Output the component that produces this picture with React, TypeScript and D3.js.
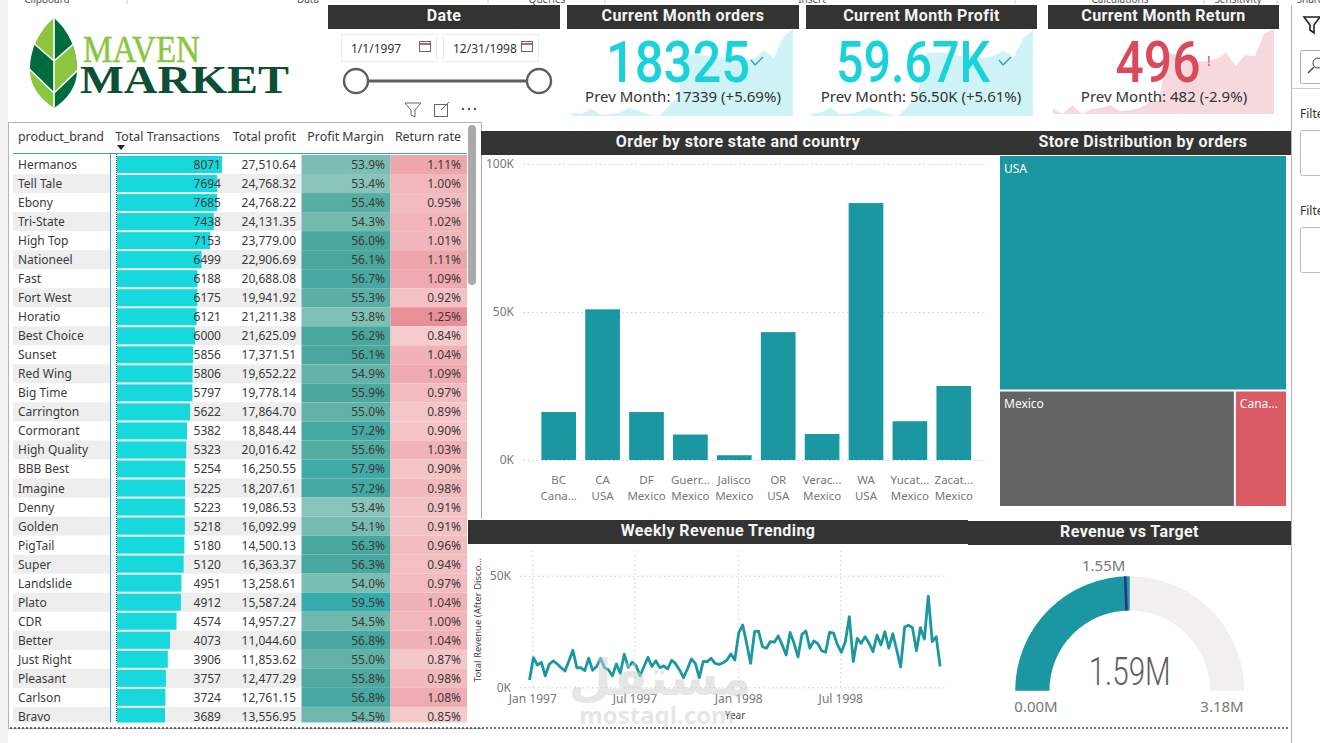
import React, { useEffect, useRef } from 'react';
import * as d3 from 'd3';

// table
const brands = ['Hermanos', 'Tell Tale', 'Ebony', 'Tri-State', 'High Top', 'Nationeel', 'Fast', 'Fort West', 'Horatio', 'Best Choice', 'Sunset', 'Red Wing', 'Big Time', 'Carrington', 'Cormorant', 'High Quality', 'BBB Best', 'Imagine', 'Denny', 'Golden', 'PigTail', 'Super', 'Landslide', 'Plato', 'CDR', 'Better', 'Just Right', 'Pleasant', 'Carlson', 'Bravo'];
const transactions = [8071, 7694, 7685, 7438, 7153, 6499, 6188, 6175, 6121, 6000, 5856, 5806, 5797, 5622, 5382, 5323, 5254, 5225, 5223, 5218, 5180, 5120, 4951, 4912, 4574, 4073, 3906, 3757, 3724, 3689];
const profits = [27510.64, 24768.32, 24768.22, 24131.35, 23779.0, 22906.69, 20688.08, 19941.92, 21211.38, 21625.09, 17371.51, 19652.22, 19778.14, 17864.7, 18848.44, 20016.42, 16250.55, 18207.61, 19086.53, 16092.99, 14500.13, 16363.37, 13258.61, 15587.24, 14957.27, 11044.6, 11853.62, 12477.29, 12761.15, 13556.95];
const margins = [53.9, 53.4, 55.4, 54.3, 56.0, 56.1, 56.7, 55.3, 53.8, 56.2, 56.1, 54.9, 55.9, 55.0, 57.2, 55.6, 57.9, 57.2, 53.4, 54.1, 56.3, 56.3, 54.0, 59.5, 54.5, 56.8, 55.0, 55.8, 56.8, 54.5];
const returnRates = [1.11, 1.0, 0.95, 1.02, 1.01, 1.11, 1.09, 0.92, 1.25, 0.84, 1.04, 1.09, 0.97, 0.89, 0.9, 1.03, 0.9, 0.98, 0.91, 0.91, 0.96, 0.94, 0.97, 1.04, 1.0, 1.04, 0.87, 0.98, 1.08, 0.85];

// orders by state
const states = ['BC', 'CA', 'DF', 'Guerr...', 'Jalisco', 'OR', 'Verac...', 'WA', 'Yucat...', 'Zacat...'];
const countries = ['Cana...', 'USA', 'Mexico', 'Mexico', 'Mexico', 'USA', 'Mexico', 'USA', 'Mexico', 'Mexico'];
const fullCountries = ['Canada', 'USA', 'Mexico', 'Mexico', 'Mexico', 'USA', 'Mexico', 'USA', 'Mexico', 'Mexico'];
const stateOrders = [16200, 50900, 16200, 8600, 1600, 43200, 8800, 86800, 13100, 25000];

// weekly revenue, in thousands
const weeklyRevenue = [3.3, 13.3, 10, 11.2, 5.1, 10.3, 11.8, 10.5, 8.8, 7.3, 11.9, 16.6, 8.7, 8.8, 7.5, 13, 7.6, 9.3, 13, 8.8, 7.9, 5.1, 10.5, 6.3, 14.8, 9, 11.2, 9.7, 5.2, 9.3, 13.4, 9.3, 11.9, 8.8, 9.6, 8.2, 12.1, 10.6, 7.8, 4.3, 8.2, 12.7, 10.7, 4.3, 11.6, 11.5, 13, 10.7, 10.3, 10.9, 12.2, 14.9, 12.2, 24.5, 27.9, 19.7, 10.7, 24.9, 25.2, 18.2, 17.5, 20.5, 20.2, 23, 19, 14.5, 24.6, 19.7, 13.6, 23.7, 25.2, 17.5, 20.8, 19.6, 16.4, 15.7, 24.6, 24.3, 19, 15.7, 20.5, 31.7, 11.5, 21.9, 19.7, 22.7, 19.7, 16, 23.4, 19, 24.9, 17.5, 24, 16.7, 9.1, 27, 27.8, 26.7, 16.4, 26.7, 21.6, 40.8, 20.5, 22.7, 9.4];
const weekStart = new Date(1996, 11, 27);

// KPI sparklines, monthly
const ordersSpark = [7514, 7471, 8115, 7343, 7428, 7600, 8243, 7772, 7343, 7171, 8329, 9616, 14979, 15065, 14893, 14678, 14722, 14550, 14421, 14550, 15622, 14550, 17339, 18325];
const profitSpark = [27.9, 28.2, 30.2, 27.7, 27.9, 28.6, 30.2, 29, 27.7, 27, 30.5, 34.9, 50.8, 51.2, 51, 50.1, 49.5, 49.8, 48.9, 50.1, 51.8, 49.3, 56.5, 59.67];
const returnSpark = [239, 222, 250, 222, 237, 241, 250, 232, 234, 241, 259, 266, 417, 414, 401, 392, 392, 399, 420, 377, 412, 408, 482, 496];

// gauge
const gaugeValue = 1.59;
const gaugeTarget = 1.55;
const gaugeMax = 3.18;

const ribbonLabels: [string, number][] = [['Clipboard', 47], ['Data', 308], ['Queries', 547], ['Insert', 812], ['Calculations', 1120], ['Sensitivity', 1238], ['Share', 1310]];
const ribbonSeps = [127, 488, 605, 1015, 1204, 1277];

const UI = '"Noto Sans", "Open Sans", sans-serif';
const DIN = 'Roboto, "Noto Sans", sans-serif';
const TEAL = '#1a97a0';
const CYAN = '#17d8dd';
const GREY = '#777777';

const Logo: React.FC = () => (
  <svg width={300} height={112} style={{ position: 'fixed', left: 0, top: 5 }}>
    <g transform="translate(0,-5)">
      <clipPath id="leaf">
        <path d="M54,18 C40,30 30,48 30,70 C30,88 42,100 54,108 C66,100 77,88 77,70 C77,48 68,30 54,18 Z" />
      </clipPath>
      <g clipPath="url(#leaf)">
        <rect x="25" y="15" width="29" height="100" fill="#8cc63f" />
        <rect x="54" y="15" width="29" height="100" fill="#006b3f" />
        <path d="M54,61 L25,36 L25,66 L54,93 Z" fill="#006b3f" />
        <path d="M54,61 L83,36 L83,66 L54,93 Z" fill="#8cc63f" />
        <path d="M54,18 V108 M54,61 L30,40 M54,61 L78,40 M54,93 L28,68 M54,93 L80,68" stroke="#fff" strokeWidth="1.6" fill="none" />
      </g>
      <text x="83" y="62" fontFamily='"Liberation Serif"' fontWeight="400" fontSize="37" fill="#8cc63f" stroke="#8cc63f" strokeWidth="0.5" textLength={117} lengthAdjust="spacingAndGlyphs">MAVEN</text>
      <text x="80" y="93" fontFamily='"Liberation Serif"' fontWeight="700" fontSize="41" fill="#0b4f34" textLength={209} lengthAdjust="spacingAndGlyphs">MARKET</text>
    </g>
  </svg>
);

const App: React.FC = () => {
  const svgRef = useRef<SVGSVGElement>(null);

  useEffect(() => {
    if (!svgRef.current) return;
    const svg = d3.select(svgRef.current);
    svg.selectAll('*').remove();

    // page chrome
    svg.append('rect').attr('width', 1320).attr('height', 743).attr('fill', '#fff');
    svg.append('rect').attr('width', 8).attr('height', 743).attr('fill', '#f3f2f1');
    ribbonLabels.forEach(([t, x]) => {
      svg.append('text').attr('x', x).attr('y', 3).attr('text-anchor', 'middle')
        .attr('font-family', UI).attr('font-size', 10).attr('fill', '#555').text(t);
    });
    ribbonSeps.forEach(x => {
      svg.append('line').attr('x1', x).attr('x2', x).attr('y1', 0).attr('y2', 4).attr('stroke', '#ccc');
    });

    const header = (text: string, x0: number, x1: number, y0: number, h = 24) => {
      svg.append('rect').attr('x', x0).attr('y', y0).attr('width', x1 - x0).attr('height', h).attr('fill', '#333333');
      svg.append('text').attr('x', (x0 + x1) / 2).attr('y', y0 + h / 2 + 3.5).attr('text-anchor', 'middle')
        .attr('font-family', DIN).attr('font-weight', 700).attr('font-size', 16).attr('letter-spacing', 0.4).attr('fill', '#f4f4f4').text(text);
    };

    // borders
    svg.append('rect').attr('x', 8.5).attr('y', 122.5).attr('width', 473).attr('height', 606).attr('fill', '#fff').attr('stroke', '#b5b5b5');
    svg.append('rect').attr('x', 468).attr('y', 519).attr('width', 15).attr('height', 209).attr('fill', '#fff');
    svg.append('line').attr('x1', 481.5).attr('x2', 481.5).attr('y1', 155).attr('y2', 518).attr('stroke', '#a8a8a8');

    // right pane
    const pane = svg.append('g');
    pane.append('line').attr('x1', 1291.5).attr('x2', 1291.5).attr('y1', 5).attr('y2', 743).attr('stroke', '#b5b5b5');
    pane.append('line').attr('x1', 1291).attr('x2', 1320).attr('y1', 88.5).attr('y2', 88.5).attr('stroke', '#ccc');
    pane.append('path').attr('d', 'M1304,17 L1320,17 L1314,25 L1314,33 L1310,30 L1310,25 Z').attr('fill', 'none').attr('stroke', '#222').attr('stroke-width', 1.6);
    pane.append('rect').attr('x', 1300.5).attr('y', 50.5).attr('width', 30).attr('height', 33).attr('rx', 2).attr('fill', '#fff').attr('stroke', '#aaa');
    pane.append('circle').attr('cx', 1318).attr('cy', 63).attr('r', 5).attr('fill', 'none').attr('stroke', '#444');
    pane.append('line').attr('x1', 1314).attr('y1', 67).attr('x2', 1308).attr('y2', 73).attr('stroke', '#444').attr('stroke-width', 1.4);
    [[118, 130.5], [215, 227.5]].forEach(([ty, by]) => {
      pane.append('text').attr('x', 1300).attr('y', ty).attr('font-family', UI).attr('font-size', 12).attr('fill', '#333').text('Filte');
      pane.append('rect').attr('x', 1300.5).attr('y', by).attr('width', 30).attr('height', 45).attr('rx', 2).attr('fill', '#fff').attr('stroke', '#bbb');
    });

    // date slicer
    header('Date', 328, 560, 5);
    [[341, '1/1/1997'], [443, '12/31/1998']].forEach(([x, t]) => {
      const bx = x as number;
      svg.append('rect').attr('x', bx + 0.5).attr('y', 34.5).attr('width', 95).attr('height', 27).attr('fill', '#fff').attr('stroke', '#ececec');
      svg.append('text').attr('x', bx + 10).attr('y', 53).attr('font-family', UI).attr('font-size', 12).attr('fill', '#333').text(t as string);
      svg.append('rect').attr('x', bx + 78.5).attr('y', 41.5).attr('width', 11).attr('height', 10).attr('fill', '#fff').attr('stroke', '#666');
      svg.append('line').attr('x1', bx + 79).attr('x2', bx + 89).attr('y1', 44).attr('y2', 44).attr('stroke', '#a33').attr('stroke-width', 1.5);
    });
    svg.append('line').attr('x1', 356).attr('x2', 539).attr('y1', 81).attr('y2', 81).attr('stroke', '#605e5c').attr('stroke-width', 3);
    [356, 539].forEach(cx => {
      svg.append('circle').attr('cx', cx).attr('cy', 81).attr('r', 12).attr('fill', '#fff').attr('stroke', '#605e5c').attr('stroke-width', 2.4);
    });

    // visual header icons
    svg.append('path').attr('d', 'M405,103 L421,103 L415,110 L415,117 L411,115 L411,110 Z').attr('fill', 'none').attr('stroke', '#666');
    svg.append('rect').attr('x', 434.5).attr('y', 104.5).attr('width', 13).attr('height', 12).attr('fill', 'none').attr('stroke', '#666');
    svg.append('line').attr('x1', 441).attr('y1', 110).attr('x2', 449).attr('y2', 102).attr('stroke', '#666');
    [463, 469, 475].forEach(cx => svg.append('circle').attr('cx', cx).attr('cy', 109).attr('r', 1.2).attr('fill', '#555'));

    // KPI cards
    const kpi = (o: {
      title: string; x0: number; x1: number; ax0: number; ax1: number; base: number; top: number;
      data: number[]; color: string; area: string; value: string; vx: number; vw: number; prev: string; px: number;
      mark: string; mx: number;
    }) => {
      header(o.title, o.x0, o.x1, 5);
      const x = d3.scaleLinear().domain([0, o.data.length - 1]).range([o.ax0, o.ax1]);
      const y = d3.scaleLinear().domain(d3.extent(o.data) as [number, number]).range([o.base, o.top]);
      const area = d3.area<number>().x((_, i) => x(i)).y0(o.base).y1(d => y(d));
      svg.append('path').datum(o.data).attr('d', area).attr('fill', o.area);
      svg.append('text').attr('x', o.vx).attr('y', 82).attr('text-anchor', 'middle')
        .attr('font-family', DIN).attr('font-weight', 500).attr('font-size', 58).attr('fill', o.color)
        .attr('textLength', o.vw).attr('lengthAdjust', 'spacingAndGlyphs').text(o.value);
      svg.append('text').attr('x', o.px).attr('y', 102).attr('text-anchor', 'middle')
        .attr('font-family', UI).attr('font-size', 15).attr('fill', '#333').text(o.prev);
      if (o.mark === '!') {
        svg.append('text').attr('x', o.mx).attr('y', 66).attr('text-anchor', 'middle').attr('font-family', UI)
          .attr('font-size', 14).attr('fill', o.color).text('!');
      } else {
        svg.append('path').attr('d', `M${o.mx - 6},${60} L${o.mx - 2},${65} L${o.mx + 6},${57}`).attr('fill', 'none').attr('stroke', '#2aa7b0').attr('stroke-width', 1.4);
      }
    };
    kpi({ title: 'Current Month orders', x0: 567, x1: 799, ax0: 572, ax1: 793, base: 116, top: 29, data: ordersSpark, color: '#1ad3da', area: '#cff3f6', value: '18325', vx: 678, vw: 144, prev: 'Prev Month: 17339 (+5.69%)', px: 683, mark: 'v', mx: 757 });
    kpi({ title: 'Current Month Profit', x0: 806, x1: 1037, ax0: 811, ax1: 1033, base: 116, top: 30, data: profitSpark, color: '#1ad3da', area: '#cff3f6', value: '59.67K', vx: 913, vw: 154, prev: 'Prev Month: 56.50K (+5.61%)', px: 921, mark: 'v', mx: 1005 });
    kpi({ title: 'Current Month Return', x0: 1048, x1: 1279, ax0: 1053, ax1: 1274, base: 114, top: 29, data: returnSpark, color: '#d94b5b', area: '#f6d9dd', value: '496', vx: 1158, vw: 85, prev: 'Prev Month: 482 (-2.9%)', px: 1164, mark: '!', mx: 1209 });

    // table
    const rowY = d3.scaleBand<number>().domain(d3.range(brands.length)).range([155, 155 + 19.03 * brands.length]);
    const barW = d3.scaleLinear().domain([0, 8071]).range([0, 105]);
    const marginColor = d3.scaleLinear<string>().domain([53.4, 56, 59.5]).range(['#88c4ba', '#4aa79d', '#37acac']);
    const returnColor = d3.scaleLinear<string>().domain([0.84, 1.04, 1.25]).range(['#f5cbce', '#f0b2b8', '#e98f98']);
    const fmtProfit = d3.format(',.2f');
    const fmtMargin = d3.format('.1f');
    const fmtReturn = d3.format('.2f');

    svg.append('clipPath').attr('id', 'rows').append('rect').attr('x', 10).attr('y', 154).attr('width', 458).attr('height', 568.5);
    const table = svg.append('g').attr('font-family', UI).attr('font-size', 12).attr('fill', '#3a3a3a');
    const rows = table.append('g').attr('clip-path', 'url(#rows)');

    brands.forEach((b, i) => {
      const y = rowY(i) as number;
      const h = rowY.bandwidth();
      const g = rows.append('g');
      if (i % 2 === 1) {
        g.append('rect').attr('x', 13).attr('y', y).attr('width', 97).attr('height', h).attr('fill', '#eeeeee');
        g.append('rect').attr('x', 117).attr('y', y).attr('width', 185).attr('height', h).attr('fill', '#eeeeee');
      }
      g.append('rect').attr('x', 117).attr('y', y + 1).attr('width', barW(transactions[i])).attr('height', h - 2).attr('fill', CYAN);
      g.append('rect').attr('x', 301.5).attr('y', y).attr('width', 89).attr('height', h).attr('fill', marginColor(margins[i]));
      g.append('rect').attr('x', 390.5).attr('y', y).attr('width', 76.5).attr('height', h).attr('fill', returnColor(returnRates[i]));
      const ty = y + h / 2 + 4.5;
      g.append('text').attr('x', 18).attr('y', ty).text(b);
      g.append('text').attr('x', 221).attr('y', ty).attr('text-anchor', 'end').text(String(transactions[i]));
      g.append('text').attr('x', 296).attr('y', ty).attr('text-anchor', 'end').text(fmtProfit(profits[i]));
      g.append('text').attr('x', 385).attr('y', ty).attr('text-anchor', 'end').text(fmtMargin(margins[i]) + '%');
      g.append('text').attr('x', 461).attr('y', ty).attr('text-anchor', 'end').text(fmtReturn(returnRates[i]) + '%');
    });

    const headers: [string, number, string][] = [['product_brand', 18, 'start'], ['Total Transactions', 220, 'end'], ['Total profit', 296, 'end'], ['Profit Margin', 384, 'end'], ['Return rate', 461, 'end']];
    headers.forEach(([t, x, anchor]) => {
      table.append('text').attr('x', x).attr('y', 141).attr('text-anchor', anchor).attr('font-size', 12.4).text(t);
    });
    table.append('path').attr('d', 'M117,145 L125,145 L121,150 Z').attr('fill', '#222');
    table.append('line').attr('x1', 13).attr('x2', 467).attr('y1', 153.5).attr('y2', 153.5).attr('stroke', '#3f9be8');
    table.append('line').attr('x1', 110.5).attr('x2', 110.5).attr('y1', 153).attr('y2', 722).attr('stroke', '#3f9be8');
    table.append('line').attr('x1', 116.5).attr('x2', 116.5).attr('y1', 154).attr('y2', 722).attr('stroke', '#444').attr('stroke-dasharray', '1 1');
    table.append('rect').attr('x', 468).attr('y', 125).attr('width', 8).attr('height', 160).attr('rx', 4).attr('fill', '#aaaaaa');

    // bar chart
    header('Order by store state and country', 481, 995, 131);
    const barX = d3.scaleBand<number>().domain(d3.range(states.length)).range([536.75, 975.75]).paddingInner(0.21).paddingOuter(0.105);
    const barY = d3.scaleLinear().domain([0, 100000]).range([460, 164]);
    const kFmt = (d: d3.NumberValue) => `${+d / 1000}K`;
    const styleAxis = (g: d3.Selection<SVGGElement, unknown, null, undefined>) => {
      g.select('.domain').remove();
      g.selectAll('.tick text').attr('font-family', UI).attr('font-size', 12).attr('fill', GREY);
      g.selectAll('.tick line').attr('stroke', '#cccccc').attr('stroke-dasharray', '1.5 3');
    };
    svg.append('g').attr('transform', 'translate(523,0)')
      .call(d3.axisLeft(barY).tickValues([0, 50000, 100000]).tickFormat(kFmt).tickSize(-464).tickPadding(9))
      .call(styleAxis);
    svg.append('g').selectAll('rect').data(stateOrders).join('rect')
      .attr('x', (_, i) => barX(i) as number).attr('width', barX.bandwidth())
      .attr('y', d => barY(d)).attr('height', d => 460 - barY(d)).attr('fill', TEAL);
    states.forEach((s, i) => {
      const cx = (barX(i) as number) + barX.bandwidth() / 2;
      [[s, 484], [countries[i], 500]].forEach(([t, y]) => {
        svg.append('text').attr('x', cx).attr('y', y).attr('text-anchor', 'middle')
          .attr('font-family', UI).attr('font-size', 11.5).attr('fill', GREY).text(t);
      });
    });

    // treemap
    header('Store Distribution by orders', 995, 1291, 131);
    const totals = d3.rollups(stateOrders.map((v, i) => ({ v, c: fullCountries[i] })), r => d3.sum(r, d => d.v), d => d.c);
    const root = d3.hierarchy<any>({ children: totals.map(([name, value]) => ({ name, value })) })
      .sum(d => d.value || 0).sort((a, b) => (b.value || 0) - (a.value || 0));
    d3.treemap<any>().size([286, 350]).paddingInner(2).tile(d3.treemapSquarify)(root);
    const treeColor: Record<string, string> = { USA: TEAL, Mexico: '#646464', Canada: '#d95b65' };
    const treeLabel: Record<string, string> = { USA: 'USA', Mexico: 'Mexico', Canada: 'Cana...' };
    const tree = svg.append('g').attr('transform', 'translate(1000,156)');
    (root.leaves() as any[]).forEach(l => {
      tree.append('rect').attr('x', l.x0).attr('y', l.y0).attr('width', l.x1 - l.x0).attr('height', l.y1 - l.y0).attr('fill', treeColor[l.data.name]);
      tree.append('text').attr('x', l.x0 + 4).attr('y', l.y0 + 17).attr('font-family', UI).attr('font-size', 12).attr('fill', '#fff').text(treeLabel[l.data.name]);
    });

    // weekly line
    header('Weekly Revenue Trending', 468, 968, 520);
    const lineX = d3.scaleTime().domain([new Date(1997, 0, 1), new Date(1998, 6, 1)]).range([532.3, 840.3]);
    const lineY = d3.scaleLinear().domain([0, 50]).range([687.3, 575.7]);
    svg.append('g').attr('transform', 'translate(520,0)')
      .call(d3.axisLeft(lineY).tickValues([0, 50]).tickFormat(d => `${d}K`).tickSize(-427).tickPadding(9))
      .call(styleAxis);
    svg.append('g').attr('transform', 'translate(0,687.3)')
      .call(d3.axisBottom(lineX)
        .tickValues([new Date(1997, 0, 1), new Date(1997, 6, 1), new Date(1998, 0, 1), new Date(1998, 6, 1)])
        .tickFormat(d => d3.timeFormat('%b %Y')(d as Date)).tickSize(-136).tickPadding(7))
      .call(styleAxis);
    const weekLine = d3.line<number>()
      .x((_, i) => lineX(d3.timeDay.offset(weekStart, i * 7)))
      .y(d => lineY(d));
    svg.append('path').datum(weeklyRevenue).attr('d', weekLine).attr('fill', 'none').attr('stroke', TEAL).attr('stroke-width', 2.8).attr('stroke-linejoin', 'round');
    svg.append('text').attr('transform', 'translate(481,620) rotate(-90)').attr('text-anchor', 'middle')
      .attr('font-family', UI).attr('font-size', 9.5).attr('fill', '#444').text('Total Revenue (After Disco...');
    svg.append('text').attr('x', 735).attr('y', 719).attr('text-anchor', 'middle')
      .attr('font-family', UI).attr('font-size', 10).attr('fill', '#444').text('Year');

    // watermark
    svg.append('text').attr('x', 660).attr('y', 695).attr('text-anchor', 'middle').attr('font-family', '"DejaVu Sans"')
      .attr('font-weight', 700).attr('font-size', 50).attr('fill', '#cfcfcf').attr('opacity', 0.5).text('مستقل');
    svg.append('text').attr('x', 657).attr('y', 724).attr('text-anchor', 'middle').attr('font-family', '"Open Sans"')
      .attr('font-weight', 700).attr('font-size', 24).attr('fill', '#cfcfcf').attr('opacity', 0.5).text('mostaql.com');

    // gauge
    header('Revenue vs Target', 968, 1291, 521);
    const angle = d3.scaleLinear().domain([0, gaugeMax]).range([-Math.PI / 2, Math.PI / 2]);
    const arc = d3.arc();
    const gauge = svg.append('g').attr('transform', 'translate(1129.7,690.7)');
    const seg = (a: number, b: number, fill: string) => gauge.append('path')
      .attr('d', arc({ innerRadius: 80.3, outerRadius: 114.5, startAngle: a, endAngle: b }) as string).attr('fill', fill);
    seg(angle(0), angle(gaugeMax), '#f1f0ef');
    seg(angle(0), angle(gaugeValue), TEAL);
    const ta = angle(gaugeTarget);
    gauge.append('line').attr('x1', Math.sin(ta) * 80.3).attr('y1', -Math.cos(ta) * 80.3)
      .attr('x2', Math.sin(ta) * 114.5).attr('y2', -Math.cos(ta) * 114.5).attr('stroke', '#2e3192').attr('stroke-width', 2.6);
    svg.append('text').attr('x', 1129.7).attr('y', 685).attr('text-anchor', 'middle').attr('font-family', DIN).attr('font-weight', 300)
      .attr('font-size', 38).attr('fill', '#605e5c').attr('textLength', 82).attr('lengthAdjust', 'spacingAndGlyphs').text('1.59M');
    [['1.55M', 1103.7, 571], ['0.00M', 1036, 712], ['3.18M', 1222, 712]].forEach(([t, x, y]) => {
      svg.append('text').attr('x', x).attr('y', y).attr('text-anchor', 'middle').attr('font-family', UI)
        .attr('font-size', 15).attr('fill', GREY).text(t as string);
    });

    // bottom dotted rule
    svg.append('line').attr('x1', 10).attr('x2', 1290).attr('y1', 728).attr('y2', 728).attr('stroke', '#444').attr('stroke-width', 1.5).attr('stroke-dasharray', '2 2');
  }, []);

  return (
    <>
      <svg ref={svgRef} width={1320} height={743} style={{ position: 'fixed', left: 0, top: 0, display: 'block' }}></svg>
      <Logo />
    </>
  );
};

export default App;
